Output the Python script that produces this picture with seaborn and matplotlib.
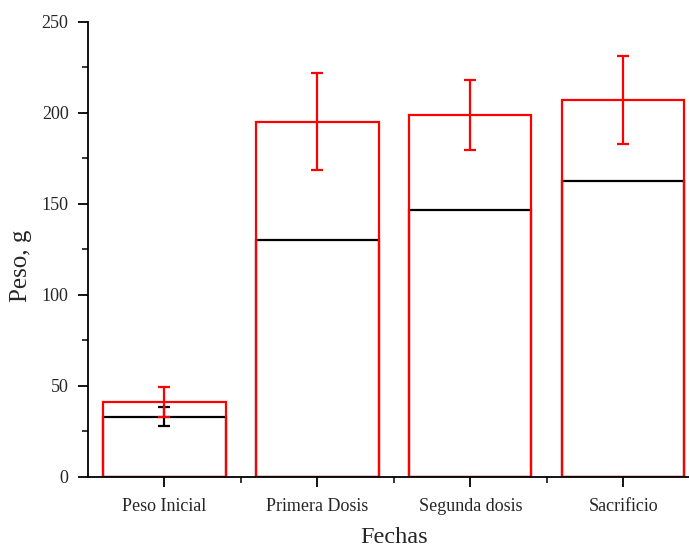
import seaborn as sns
import numpy as np
import matplotlib.pyplot as plt
from matplotlib.ticker import MultipleLocator

categories = ['Peso Inicial', 'Primera Dosis', 'Segunda dosis', 'Sacrificio']
red_vals = [41.2, 195.2, 199.0, 207.2]
red_err = [8.0, 26.5, 19.2, 24.0]
black_vals = [33.2, 130.3, 146.8, 162.6]
black_err = [5.2, 0, 0, 0]

sns.set_style('ticks')
plt.rcParams['font.family'] = ['Liberation Serif', 'DejaVu Serif']

fig = plt.figure(figsize=(6.89, 5.48), dpi=100)
ax = fig.add_axes([0.1277, 0.1296, 0.8877, 0.8303])

x = np.arange(len(categories))

sns.barplot(x=categories, y=black_vals, fill=False, color='black', saturation=1,
            linewidth=1.6, width=0.8, ax=ax)
ax.errorbar(x[:1], black_vals[:1], yerr=black_err[:1], fmt='none', ecolor='black',
            elinewidth=1.6, capsize=4, capthick=1.6)
sns.barplot(x=categories, y=red_vals, fill=False, color='red', saturation=1,
            linewidth=1.6, width=0.8, ax=ax)
ax.errorbar(x, red_vals, yerr=red_err, fmt='none', ecolor='red',
            elinewidth=1.6, capsize=4, capthick=1.6)

ax.set_xlim(-0.5, 3.5)
ax.set_ylim(0, 250)
ax.yaxis.set_major_locator(MultipleLocator(50))
ax.yaxis.set_minor_locator(MultipleLocator(25))
ax.set_xticks(x, categories)
ax.set_xticks(x[:-1] + 0.5, minor=True)
ax.tick_params(which='major', direction='out', length=7, width=1.3, labelsize=13, color='black')
ax.tick_params(which='minor', direction='out', length=4, width=1.1, color='black')
ax.tick_params(axis='x', which='major', pad=8)
ax.tick_params(axis='y', which='major', pad=7)

for side in ['top', 'right']:
    ax.spines[side].set_visible(False)
for side in ['left', 'bottom']:
    ax.spines[side].set_linewidth(1.3)
    ax.spines[side].set_color('black')

ax.set_xlabel('Fechas', fontsize=17.5, labelpad=9)
ax.set_ylabel('Peso, g', fontsize=18)
ax.yaxis.set_label_coords(-0.092, 0.464)

plt.savefig('out.png', dpi=100)
